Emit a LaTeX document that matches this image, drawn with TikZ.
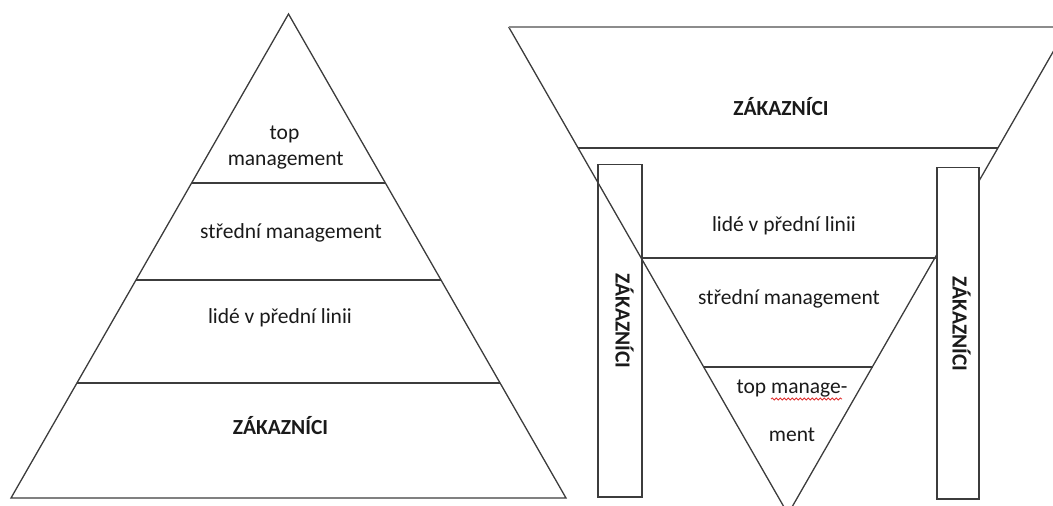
\documentclass[tikz,border=0pt]{standalone}
\usepackage{fontspec}
\setmainfont{Carlito}
\usetikzlibrary{decorations.pathmorphing}
\definecolor{ln}{HTML}{3C3C3C}
\definecolor{lngray}{HTML}{8C8C8C}
\definecolor{tx}{HTML}{1A1A1A}
\definecolor{spell}{HTML}{E03030}
\begin{document}
\begin{tikzpicture}[x=1pt,y=-1pt,
  edge/.style={draw=ln,line width=1.3pt,line join=miter},
  topedge/.style={draw=lngray,line width=2.2pt},
  lbl/.style={text=tx,font=\fontsize{21.5}{26}\selectfont,inner sep=0pt,anchor=mid},
  blbl/.style={text=tx,font=\fontsize{21.5}{26}\selectfont\bfseries,inner sep=0pt,anchor=base},
  colbox/.style={draw=ln,line width=1.3pt},
  wavy/.style={draw=spell,line width=0.8pt,decorate,decoration={snake,amplitude=1.1pt,segment length=4pt}}]
\useasboundingbox (0,0) rectangle (1053,506);
\clip (0,0) rectangle (1053,506);

% ---------- left pyramid ----------
\coordinate (LA) at (288.5,14);
\coordinate (LBL) at (11,498);
\coordinate (LBR) at (566,498);
\draw[edge] (LA) -- (LBL) -- (LBR) -- cycle;
\coordinate (L1a) at (191.6,183); \coordinate (L1b) at (385.4,183);
\coordinate (L2a) at (136,280);   \coordinate (L2b) at (441,280);
\coordinate (L3a) at (77,383);    \coordinate (L3b) at (500,383);
\draw[edge] (L1a) -- (L1b);
\draw[edge] (L2a) -- (L2b);
\draw[edge] (L3a) -- (L3b);

\node[lbl] (ltop1) at (284.5,137) {top};
\node[lbl] (ltop2) at (285.7,163) {management};
\node[lbl] (lmid) at (291,236.5) {střední management};
\node[lbl] (lfront) at (280,321.5) {lidé v přední linii};
\node[blbl] (lcust) at (280.5,434) {ZÁKAZNÍCI};

% ---------- right inverted pyramid ----------
\coordinate (RA) at (788,514);
\coordinate (RTL) at (508.7,27);
\coordinate (RTR) at (1067.3,27);
% left column (drawn under the funnel edge)
\draw[colbox] (598,164.5) rectangle (642,497);
\draw[edge] (RTL) -- (RA) -- (RTR);
\draw[topedge] (RTL) -- (RTR);
\coordinate (R1a) at (578,148); \coordinate (R1b) at (998,148);
\coordinate (R2a) at (641,258); \coordinate (R2b) at (936,258);
\coordinate (R3a) at (704,367); \coordinate (R3b) at (873,367);
\draw[edge] (R1a) -- (R1b);
\draw[edge] (R2a) -- (R2b);
\draw[edge] (R3a) -- (R3b);
% right column (covers the funnel edge)
\draw[colbox,fill=white] (937,167.5) rectangle (979,499);

\node[blbl] (rcust) at (781,115.3) {ZÁKAZNÍCI};
\node[lbl] (rfront) at (784,229) {lidé v přední linii};
\node[lbl] (rmid) at (789,302.5) {střední management};
\node[lbl] (rtop1) at (792,391) {top manage-};
\node[lbl] (rtop2) at (792,439) {ment};
\coordinate (wa) at (771,399);
\coordinate (wb) at (842,399);
\draw[wavy] (wa) -- (wb);

\node[blbl,rotate=-90] (ccl) at (615.5,321) {ZÁKAZNÍCI};
\node[blbl,rotate=-90] (ccr) at (952.5,324) {ZÁKAZNÍCI};
\end{tikzpicture}
\end{document}
